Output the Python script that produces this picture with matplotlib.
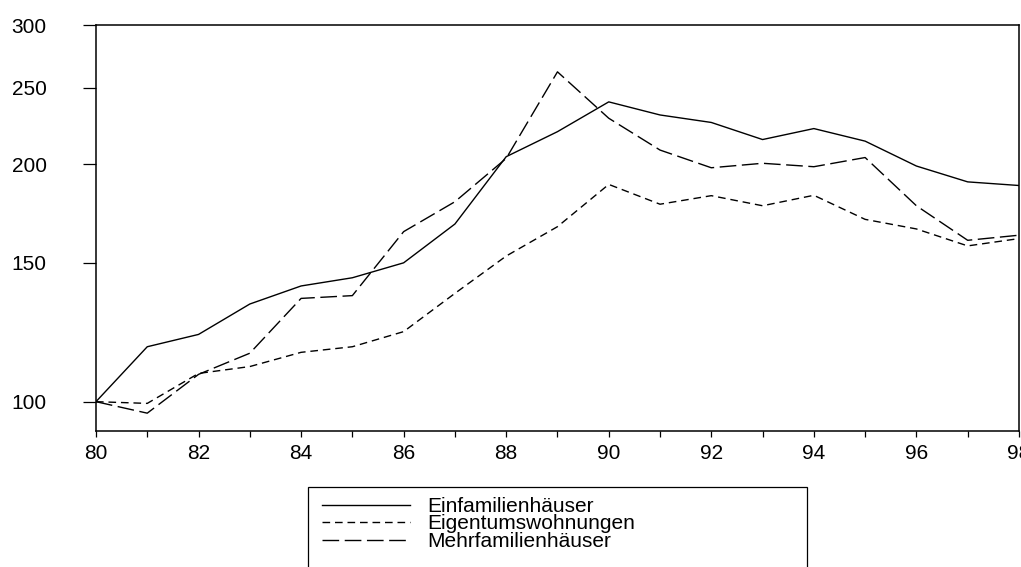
import matplotlib
matplotlib.use("Agg")
import matplotlib.pyplot as plt
from matplotlib.patches import Rectangle
from matplotlib.ticker import FixedLocator, NullLocator, FixedFormatter

plt.rcParams['font.family'] = ['Liberation Sans', 'DejaVu Sans']

years = list(range(80, 99))
einfamilien = [100, 117.4, 121.7, 133, 140.2, 143.6, 150, 168, 204.5, 220, 240,
               231, 226, 215, 222, 214, 199, 190, 188]
eigentum = [100, 99.5, 108.6, 110.8, 115.5, 117.4, 122.7, 137.2, 153, 166.7, 188.6,
            178, 182.5, 177.2, 182.7, 170.3, 165.6, 157.6, 161]
mehrfamilien = [100, 96.7, 108.3, 115.2, 135.2, 136.3, 164.3, 179.3, 203.5, 262, 228.8,
                208.5, 198, 200.6, 198.6, 204, 177.2, 160.2, 162.6]
labels = ["Einfamilienhäuser", "Eigentumswohnungen", "Mehrfamilienhäuser"]
yticks = [100, 150, 200, 250, 300]
xticks_major = [80, 82, 84, 86, 88, 90, 92, 94, 96, 98]
xticks_minor = [81, 83, 85, 87, 89, 91, 93, 95, 97]

fig = plt.figure(figsize=(10.21, 5.67), dpi=100)
ax = fig.add_axes([0.094, 0.2399, 0.904, 0.716])

lw = 1.0
l1, = ax.plot(years, einfamilien, color='black', lw=lw, label=labels[0])
l2, = ax.plot(years, eigentum, color='black', lw=lw, label=labels[1])
l2.set_dashes([5.5, 3.5])
l3, = ax.plot(years, mehrfamilien, color='black', lw=lw, label=labels[2])
l3.set_dashes([12, 4])

ax.set_yscale('log')
ax.set_ylim(91.8, 300.4)
ax.set_xlim(80, 98)
ax.yaxis.set_major_locator(FixedLocator(yticks))
ax.yaxis.set_major_formatter(FixedFormatter([str(v) for v in yticks]))
ax.yaxis.set_minor_locator(NullLocator())
ax.xaxis.set_major_locator(FixedLocator(xticks_major))
ax.xaxis.set_major_formatter(FixedFormatter([str(v) for v in xticks_major]))
ax.xaxis.set_minor_locator(FixedLocator(xticks_minor))

for s in ax.spines.values():
    s.set_linewidth(1.1)
ax.tick_params(axis='y', which='major', direction='out', length=9.5, width=0.9,
               pad=26, labelsize=15)
ax.tick_params(axis='x', which='both', direction='out', length=4.5, width=0.9,
               pad=5, labelsize=15)

leg = ax.legend(handles=[l1, l2, l3], loc='upper left',
                bbox_to_anchor=(322 / 1021, 1 - 497 / 567),
                bbox_transform=fig.transFigure, frameon=False,
                borderpad=0, borderaxespad=0, handlelength=4.2,
                handletextpad=0.85, labelspacing=-0.075, fontsize=15)

rect = Rectangle((308 / 1021, 1 - 600 / 567), (807 - 308) / 1021, (600 - 487) / 567,
                 transform=fig.transFigure, fill=False, edgecolor='black',
                 linewidth=0.9, clip_on=False)
fig.patches.append(rect)

fig.savefig("out.png", dpi=100)
